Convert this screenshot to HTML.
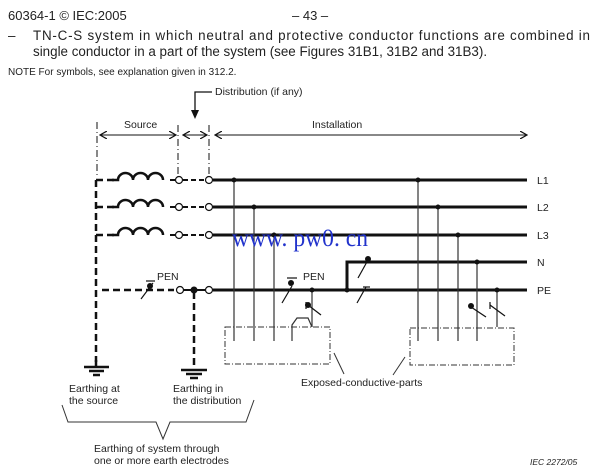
<!DOCTYPE html>
<html><head><meta charset="utf-8"><style>
html,body{margin:0;padding:0;background:#fff;width:600px;height:470px;overflow:hidden}
svg{display:block}
text{font-family:"Liberation Sans",Arial,sans-serif;fill:#222}
</style></head><body>
<svg width="600" height="470" viewBox="0 0 600 470" xmlns="http://www.w3.org/2000/svg">
<defs>
<marker id="ar" markerWidth="8" markerHeight="8" refX="7" refY="4" orient="auto" markerUnits="userSpaceOnUse"><path d="M0,0 L7,4 L0,8" fill="none" stroke="#111" stroke-width="1.2"/></marker>
<marker id="al" markerWidth="8" markerHeight="8" refX="1" refY="4" orient="auto" markerUnits="userSpaceOnUse"><path d="M8,0 L1,4 L8,8" fill="none" stroke="#111" stroke-width="1.2"/></marker>
</defs>
<text x="8" y="20" font-size="13">60364-1 © IEC:2005</text>
<text x="292" y="20" font-size="13">– 43 –</text>
<text x="8" y="40" font-size="13.4">–</text>
<text x="33" y="40" font-size="13.4" textLength="557" lengthAdjust="spacing">TN-C-S system in which neutral and protective conductor functions are combined in</text>
<text x="33" y="56" font-size="13.4">single conductor in a part of the system (see Figures 31B1, 31B2 and 31B3).</text>
<text x="8" y="75" font-size="10">NOTE  For symbols, see explanation given in 312.2.</text>

<text x="215" y="95" font-size="10.5">Distribution (if any)</text>
<path d="M212,92 H195 V112" fill="none" stroke="#111" stroke-width="1.3"/>
<path d="M191,110 L195,119 L199,110 Z" fill="#111"/>
<text x="124" y="128" font-size="10.5">Source</text>
<text x="312" y="128" font-size="10.5">Installation</text>
<g stroke="#111" stroke-width="1">
<line x1="100" y1="135" x2="176" y2="135" marker-start="url(#al)" marker-end="url(#ar)"/>
<line x1="183" y1="135" x2="207" y2="135" marker-start="url(#al)" marker-end="url(#ar)"/>
<line x1="215" y1="135" x2="527" y2="135" marker-start="url(#al)" marker-end="url(#ar)"/>
</g>
<g stroke="#111" stroke-width="1" stroke-dasharray="7,3,1,3" fill="none">
<line x1="97" y1="122" x2="97" y2="176"/>
<line x1="178" y1="125" x2="178" y2="174"/>
<line x1="209" y1="125" x2="209" y2="174"/>
</g>
<g stroke="#111" stroke-width="2.5" stroke-dasharray="7,4" fill="none">
<line x1="96" y1="180" x2="96" y2="362"/>
<line x1="194" y1="292" x2="194" y2="365"/>
<line x1="96" y1="180" x2="114" y2="180"/>
<line x1="96" y1="207" x2="114" y2="207"/>
<line x1="96" y1="235" x2="114" y2="235"/>
<line x1="102" y1="290" x2="174" y2="290"/>
</g>
<g stroke="#111" stroke-width="2.5" fill="none">
<path d="M112,180 H118 a7.5,7 0 0 1 15,0 a7.5,7 0 0 1 15,0 a7.5,7 0 0 1 15,0"/>
<path d="M112,207 H118 a7.5,7 0 0 1 15,0 a7.5,7 0 0 1 15,0 a7.5,7 0 0 1 15,0"/>
<path d="M112,235 H118 a7.5,7 0 0 1 15,0 a7.5,7 0 0 1 15,0 a7.5,7 0 0 1 15,0"/>
</g>
<g stroke="#111" stroke-width="2" stroke-dasharray="5,3">
<line x1="170" y1="180" x2="175" y2="180"/><line x1="183" y1="180" x2="205" y2="180"/>
<line x1="170" y1="207" x2="175" y2="207"/><line x1="183" y1="207" x2="205" y2="207"/>
<line x1="170" y1="235" x2="175" y2="235"/><line x1="183" y1="235" x2="205" y2="235"/>
</g>
<line x1="183" y1="290" x2="205" y2="290" stroke="#111" stroke-width="2"/>
<g fill="#fff" stroke="#111" stroke-width="1.2">
<circle cx="179" cy="180" r="3.5"/><circle cx="209" cy="180" r="3.5"/>
<circle cx="179" cy="207" r="3.5"/><circle cx="209" cy="207" r="3.5"/>
<circle cx="179" cy="235" r="3.5"/><circle cx="209" cy="235" r="3.5"/>
<circle cx="180" cy="290" r="3.5"/><circle cx="209" cy="290" r="3.5"/>
</g>
<circle cx="194" cy="290" r="3.5" fill="#111"/>
<text x="157" y="280" font-size="10.5">PEN</text>
<g stroke="#111" stroke-width="1.2"><line x1="141" y1="299" x2="153" y2="283"/><line x1="146" y1="281" x2="155" y2="281"/></g>
<circle cx="150" cy="286" r="3" fill="#111"/>

<g stroke="#111" stroke-width="3" fill="none">
<line x1="213" y1="180" x2="527" y2="180"/>
<line x1="213" y1="207" x2="527" y2="207"/>
<line x1="213" y1="235" x2="527" y2="235"/>
<line x1="213" y1="290" x2="527" y2="290"/>
<path d="M347,290 V262 H527"/>
</g>
<g font-size="10.5"><text x="537" y="184">L1</text><text x="537" y="211">L2</text><text x="537" y="239">L3</text><text x="537" y="266">N</text><text x="537" y="294">PE</text></g>
<g stroke="#333" stroke-width="1.2" fill="none">
<line x1="234" y1="180" x2="234" y2="341"/>
<line x1="254" y1="207" x2="254" y2="341"/>
<line x1="274" y1="235" x2="274" y2="341"/>
<path d="M292,341 V325 L297,318 H308 L312,327"/>
<line x1="312" y1="290" x2="312" y2="327"/>
<line x1="418" y1="180" x2="418" y2="341"/>
<line x1="438" y1="207" x2="438" y2="341"/>
<line x1="458" y1="235" x2="458" y2="341"/>
<line x1="477" y1="262" x2="477" y2="341"/>
<line x1="497" y1="290" x2="497" y2="327"/>
</g>
<g fill="#111">
<circle cx="234" cy="180" r="2.5"/><circle cx="254" cy="207" r="2.5"/><circle cx="274" cy="235" r="2.5"/>
<circle cx="312" cy="290" r="2.5"/><circle cx="347" cy="290" r="2.5"/>
<circle cx="418" cy="180" r="2.5"/><circle cx="438" cy="207" r="2.5"/><circle cx="458" cy="235" r="2.5"/>
<circle cx="477" cy="262" r="2.5"/><circle cx="497" cy="290" r="2.5"/>
</g>
<text x="303" y="280" font-size="10.5">PEN</text>
<g stroke="#111" stroke-width="1.2">
<line x1="282" y1="303" x2="292" y2="286"/><line x1="287" y1="278" x2="297" y2="278"/>
<line x1="308" y1="305" x2="321" y2="315"/><line x1="306" y1="302" x2="306" y2="309"/>
<line x1="358" y1="278" x2="368" y2="260"/>
<line x1="357" y1="303" x2="366" y2="287"/><line x1="363" y1="287" x2="370" y2="287"/>
<line x1="471" y1="307" x2="486" y2="317"/>
<line x1="490" y1="305" x2="505" y2="316"/><line x1="490" y1="302" x2="490" y2="309"/>
</g>
<circle cx="291" cy="283" r="3" fill="#111"/>
<circle cx="308" cy="305" r="3" fill="#111"/>
<circle cx="368" cy="259" r="3" fill="#111"/>
<circle cx="471" cy="306" r="3" fill="#111"/>
<g stroke="#333" stroke-width="1" stroke-dasharray="6,2,1,2" fill="none">
<rect x="225" y="327" width="105" height="37"/>
<rect x="410" y="328" width="104" height="37"/>
</g>
<g stroke="#333" stroke-width="1"><line x1="334" y1="353" x2="344" y2="374"/><line x1="405" y1="357" x2="393" y2="375"/></g>
<text x="301" y="386" font-size="10.5">Exposed-conductive-parts</text>
<g stroke="#111">
<line x1="84" y1="367" x2="109" y2="367" stroke-width="2.5"/>
<line x1="89" y1="371" x2="104" y2="371" stroke-width="2.5"/>
<line x1="93" y1="375" x2="100" y2="375" stroke-width="2.5"/>
<line x1="96" y1="360" x2="96" y2="367" stroke-width="2.5"/>
<line x1="181" y1="370" x2="207" y2="370" stroke-width="2.5"/>
<line x1="186" y1="374" x2="202" y2="374" stroke-width="2.5"/>
<line x1="190" y1="378" x2="198" y2="378" stroke-width="2.5"/>
</g>
<g font-size="10.5">
<text x="69" y="392">Earthing at</text><text x="69" y="404">the source</text>
<text x="173" y="392">Earthing in</text><text x="173" y="404">the distribution</text>
<text x="94" y="452">Earthing of system through</text>
<text x="94" y="464">one or more earth electrodes</text>
</g>
<path d="M62,405 L68,422 H156 L163,439 L170,422 H246 L254,400" fill="none" stroke="#333" stroke-width="1"/>
<text x="530" y="465" font-size="8.5" font-style="italic">IEC   2272/05</text>
<text x="232" y="246" font-size="25" textLength="136" lengthAdjust="spacingAndGlyphs" style="fill:#2233cc;font-family:'Liberation Serif',serif">www. pw0. cn</text>
</svg>
</body></html>
